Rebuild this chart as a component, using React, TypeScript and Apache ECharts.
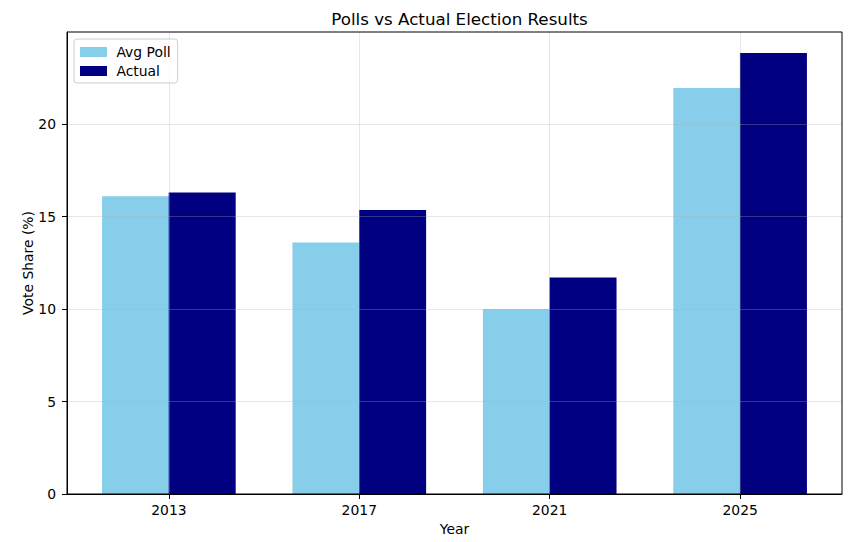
import React, { useEffect, useRef } from "react";
import * as echarts from "echarts";

const years = ["2013", "2017", "2021", "2025"];
const avgPoll = [16.1, 13.6, 10.0, 21.95];
const actual = [16.3, 15.35, 11.7, 23.85];
const yTicks = [0, 5, 10, 15, 20];

const FONT = "DejaVu Sans";

export default function App() {
  const ref = useRef<HTMLDivElement>(null);
  useEffect(() => {
    if (!ref.current) return;
    const chart = echarts.init(ref.current, null, { renderer: "svg" });
    const xIdx = years.map((_, i) => i);
    const off = 0.175;
    chart.setOption({
      animation: false,
      backgroundColor: "#ffffff",
      textStyle: { fontFamily: FONT },
      title: {
        text: "Polls vs Actual Election Results",
        left: 454.5,
        textAlign: "center",
        top: 5,
        textStyle: { fontFamily: FONT, fontSize: 16.7, fontWeight: "normal", color: "#000" },
      },
      legend: {
        orient: "vertical",
        left: 74,
        top: 39,
        padding: [6, 7, 5, 6],
        itemGap: 5,
        itemWidth: 27,
        itemHeight: 10,
        borderColor: "#cccccc",
        borderWidth: 1,
        borderRadius: 3,
        backgroundColor: "rgba(255,255,255,0.8)",
        icon: "rect",
        formatter: (name: string) => " " + name,
        textStyle: { fontFamily: FONT, fontSize: 13.9, color: "#000" },
        data: ["Avg Poll", "Actual"],
      },
      grid: { left: 67, right: 20, top: 32, bottom: 48, containLabel: false },
      xAxis: {
        type: "value",
        min: -0.535,
        max: 3.535,
        z: 3,
        name: "Year",
        nameLocation: "middle",
        nameGap: 28,
        nameTextStyle: { fontFamily: FONT, fontSize: 13.9, color: "#000" },
        axisLine: { show: true, onZero: false, lineStyle: { color: "#000", width: 1 } },
        axisTick: { show: true, length: 5, lineStyle: { color: "#000" }, customValues: xIdx },
        axisLabel: {
          customValues: xIdx,
          margin: 9,
          fontFamily: FONT,
          fontSize: 13.9,
          color: "#000",
          formatter: (v: number) => years[Math.round(v)] ?? "",
        },
        splitLine: { show: true, lineStyle: { color: "rgba(176,176,176,0.3)", width: 1 } },
      },
      yAxis: {
        type: "value",
        min: 0,
        max: 24.98,
        z: 3,
        name: "Vote Share (%)",
        nameLocation: "middle",
        nameGap: 32,
        nameMoveOverlap: false,
        nameTextStyle: { fontFamily: FONT, fontSize: 13.9, color: "#000" },
        axisLine: { show: true, onZero: false, lineStyle: { color: "#000", width: 1 } },
        axisTick: { show: true, length: 5, lineStyle: { color: "#000" }, customValues: yTicks },
        axisLabel: { customValues: yTicks, margin: 11, fontFamily: FONT, fontSize: 13.9, color: "#000" },
        splitLine: { show: true, lineStyle: { color: "rgba(176,176,176,0.3)", width: 1 } },
      },
      graphic: [
        {
          type: "rect",
          z: 100,
          silent: true,
          shape: { x: 67, y: 32, width: 775, height: 462 },
          style: { fill: "none", stroke: "#000", lineWidth: 1 },
        },
      ],
      series: [
        {
          name: "Avg Poll",
          type: "bar",
          barWidth: 67,
          barGap: "-100%",
          itemStyle: { color: "#87CEEB" },
          data: avgPoll.map((v, i) => [i - off, v]),
        },
        {
          name: "Actual",
          type: "bar",
          barWidth: 67,
          barGap: "-100%",
          itemStyle: { color: "#000080" },
          data: actual.map((v, i) => [i + off, v]),
        },
      ],
    });
    return () => chart.dispose();
  }, []);
  return <div ref={ref} style={{ width: 862, height: 542, margin: -8 }} />;
}
